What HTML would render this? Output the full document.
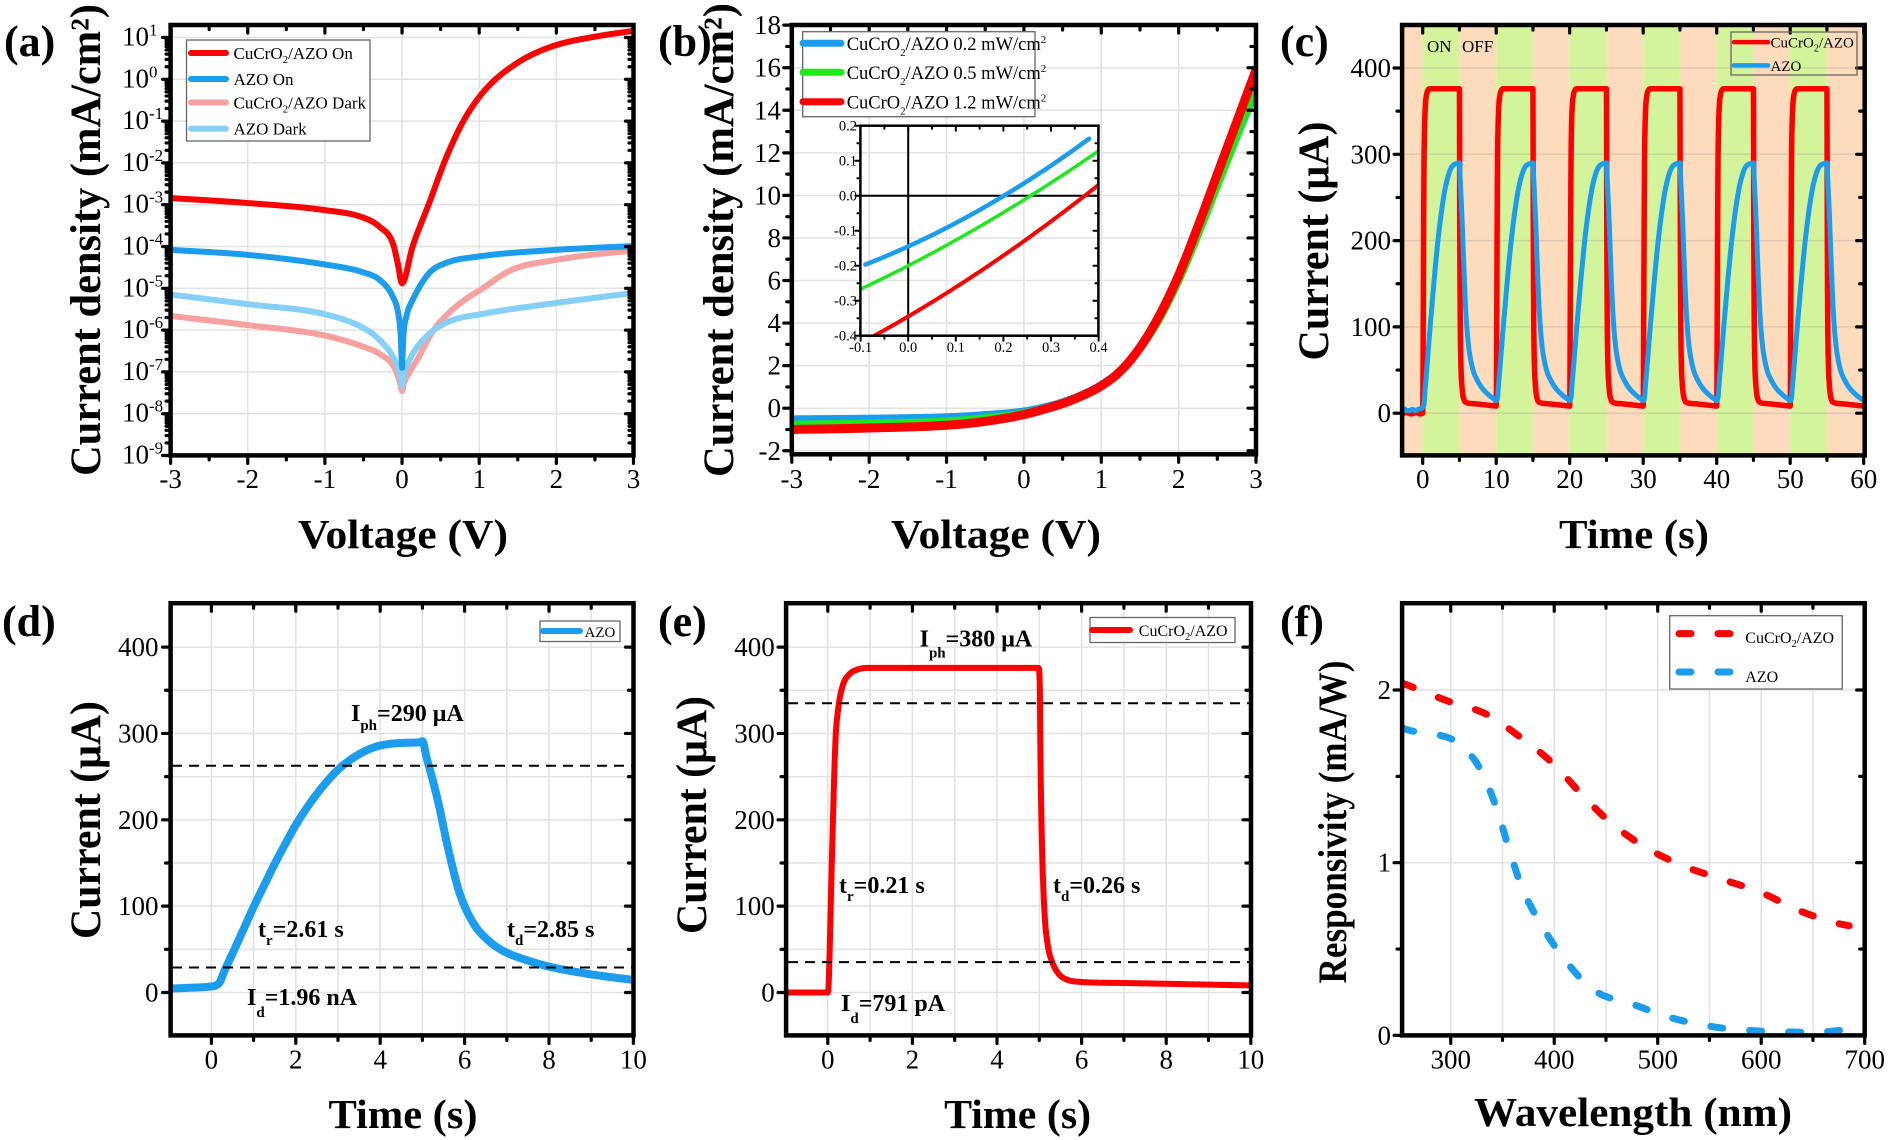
<!DOCTYPE html>
<html><head><meta charset="utf-8">
<style>
html,body{margin:0;padding:0;background:#fff;}
svg{display:block;font-family:"Liberation Serif","Times New Roman",serif;}
svg text, svg tspan{font-family:"Liberation Serif","Times New Roman",serif;}
.b{font-weight:bold;}
</style></head><body>
<svg id="s" width="1888" height="1140" viewBox="0 0 1888 1140" xmlns="http://www.w3.org/2000/svg" font-family="Liberation Serif, serif">
<defs>
<clipPath id="cA"><rect x="170.6" y="25" width="462.9" height="430.4"/></clipPath>
<clipPath id="cB"><rect x="791.8" y="25" width="464.2" height="429.3"/></clipPath>
<clipPath id="cI"><rect x="860.4" y="125.7" width="238" height="210"/></clipPath>
<clipPath id="cC"><rect x="1402.1" y="25" width="462.6" height="430.4"/></clipPath>
<clipPath id="cD"><rect x="170.6" y="603.2" width="462.9" height="432.2"/></clipPath>
<clipPath id="cE"><rect x="786.1" y="603.2" width="464.9" height="432.2"/></clipPath>
<clipPath id="cF"><rect x="1402.1" y="603.2" width="462.6" height="432.2"/></clipPath>
</defs>
<g id="bg"></g>
<g id="grid"></g>
<g id="curves"></g>
<g id="axes"></g>

<!-- ================= Panel A ================= -->
<g font-size="27">
<text x="122" y="45.5">10<tspan dy="-10" font-size="17">1</tspan></text>
<text x="122" y="87.3">10<tspan dy="-10" font-size="17">0</tspan></text>
<text x="122" y="129.1">10<tspan dy="-10" font-size="17">-1</tspan></text>
<text x="122" y="170.9">10<tspan dy="-10" font-size="17">-2</tspan></text>
<text x="122" y="212.7">10<tspan dy="-10" font-size="17">-3</tspan></text>
<text x="122" y="254.5">10<tspan dy="-10" font-size="17">-4</tspan></text>
<text x="122" y="296.3">10<tspan dy="-10" font-size="17">-5</tspan></text>
<text x="122" y="338.1">10<tspan dy="-10" font-size="17">-6</tspan></text>
<text x="122" y="379.9">10<tspan dy="-10" font-size="17">-7</tspan></text>
<text x="122" y="421.7">10<tspan dy="-10" font-size="17">-8</tspan></text>
<text x="122" y="463.5">10<tspan dy="-10" font-size="17">-9</tspan></text>
</g>
<g font-size="27" text-anchor="middle">
<text x="170.6" y="488">-3</text><text x="247.75" y="488">-2</text><text x="324.9" y="488">-1</text>
<text x="402.05" y="488">0</text><text x="479.2" y="488">1</text><text x="556.35" y="488">2</text><text x="633.5" y="488">3</text>
</g>
<text class="b" x="4" y="56" font-size="44">(a)</text>
<text class="b" x="403" y="548" font-size="41" text-anchor="middle" textLength="210" lengthAdjust="spacingAndGlyphs">Voltage (V)</text>
<text class="b" transform="translate(100,240) rotate(-90)" font-size="43" text-anchor="middle" textLength="472" lengthAdjust="spacingAndGlyphs">Current density (mA/cm²)</text>
<rect x="186.5" y="40" width="183.5" height="101" fill="#fff" stroke="#666" stroke-width="1.3"/>
<g stroke-width="6" stroke-linecap="round">
<line x1="191" y1="53" x2="226" y2="53" stroke="#ff0000"/>
<line x1="191" y1="79" x2="226" y2="79" stroke="#1b9cec"/>
<line x1="191" y1="102.5" x2="226" y2="102.5" stroke="#f6a0a0"/>
<line x1="191" y1="128.6" x2="226" y2="128.6" stroke="#86cff6"/>
</g>
<g font-size="17">
<text x="233.5" y="59">CuCrO<tspan font-size="11" dy="4">2</tspan><tspan dy="-4">/AZO On</tspan></text>
<text x="233.5" y="85">AZO On</text>
<text x="233.5" y="108.5">CuCrO<tspan font-size="11" dy="4">2</tspan><tspan dy="-4">/AZO Dark</tspan></text>
<text x="233.5" y="134.6">AZO Dark</text>
</g>

<!-- ================= Panel B ================= -->
<g font-size="27" text-anchor="end">
<text x="781" y="34.2">18</text><text x="781" y="76.7">16</text><text x="781" y="119.3">14</text>
<text x="781" y="161.8">12</text><text x="781" y="204.4">10</text><text x="781" y="247">8</text>
<text x="781" y="289.5">6</text><text x="781" y="332.1">4</text><text x="781" y="374.6">2</text>
<text x="781" y="417.2">0</text><text x="781" y="459.8">-2</text>
</g>
<g font-size="27" text-anchor="middle">
<text x="791.8" y="488">-3</text><text x="869.17" y="488">-2</text><text x="946.54" y="488">-1</text>
<text x="1023.91" y="488">0</text><text x="1101.28" y="488">1</text><text x="1178.65" y="488">2</text><text x="1256" y="488">3</text>
</g>
<g font-size="14.5" text-anchor="end">
<text x="857" y="130.7">0.2</text><text x="857" y="165.7">0.1</text><text x="857" y="200.7">0.0</text>
<text x="857" y="235.7">-0.1</text><text x="857" y="270.7">-0.2</text><text x="857" y="305.7">-0.3</text><text x="857" y="340.7">-0.4</text>
</g>
<g font-size="14.5" text-anchor="middle">
<text x="860.6" y="352">-0.1</text><text x="908.2" y="352">0.0</text><text x="955.8" y="352">0.1</text>
<text x="1003.4" y="352">0.2</text><text x="1051" y="352">0.3</text><text x="1098.6" y="352">0.4</text>
</g>
<text class="b" x="658" y="56" font-size="44">(b)</text>
<text class="b" x="996" y="548" font-size="41" text-anchor="middle" textLength="210" lengthAdjust="spacingAndGlyphs">Voltage (V)</text>
<text class="b" transform="translate(733,240) rotate(-90)" font-size="43" text-anchor="middle" textLength="474" lengthAdjust="spacingAndGlyphs">Current density (mA/cm²)</text>
<rect x="802.7" y="31.7" width="232.3" height="85" fill="#fff" stroke="#666" stroke-width="1.3"/>
<g stroke-width="7" stroke-linecap="round">
<line x1="803" y1="43.3" x2="841" y2="43.3" stroke="#1b9cec"/>
<line x1="803" y1="72.3" x2="841" y2="72.3" stroke="#1ee81e"/>
<line x1="803" y1="101.7" x2="841" y2="101.7" stroke="#ff0000"/>
</g>
<g font-size="18.5">
<text x="846.7" y="50">CuCrO<tspan font-size="11" dy="6">2</tspan><tspan dy="-6">/AZO 0.2 mW/cm</tspan><tspan font-size="11" dy="-7">2</tspan></text>
<text x="846.7" y="79">CuCrO<tspan font-size="11" dy="6">2</tspan><tspan dy="-6">/AZO 0.5 mW/cm</tspan><tspan font-size="11" dy="-7">2</tspan></text>
<text x="846.7" y="108.4">CuCrO<tspan font-size="11" dy="6">2</tspan><tspan dy="-6">/AZO 1.2 mW/cm</tspan><tspan font-size="11" dy="-7">2</tspan></text>
</g>

<!-- ================= Panel C ================= -->
<g font-size="27" text-anchor="end">
<text x="1391" y="422.2">0</text><text x="1391" y="335.9">100</text><text x="1391" y="249.6">200</text>
<text x="1391" y="163.3">300</text><text x="1391" y="77">400</text>
</g>
<g font-size="27" text-anchor="middle">
<text x="1422.7" y="488">0</text><text x="1496.2" y="488">10</text><text x="1569.7" y="488">20</text>
<text x="1643.2" y="488">30</text><text x="1716.7" y="488">40</text><text x="1790.2" y="488">50</text><text x="1863.7" y="488">60</text>
</g>
<text x="1427" y="52" font-size="17">ON</text>
<text x="1462" y="52" font-size="17">OFF</text>
<text class="b" x="1280" y="56" font-size="44">(c)</text>
<text class="b" x="1634" y="548" font-size="41" text-anchor="middle" textLength="150" lengthAdjust="spacingAndGlyphs">Time (s)</text>
<text class="b" transform="translate(1328,241) rotate(-90)" font-size="43" text-anchor="middle" textLength="239" lengthAdjust="spacingAndGlyphs">Current (μA)</text>
<rect x="1731" y="32" width="126" height="43" fill="none" stroke="#666" stroke-width="1.3"/>
<line x1="1734" y1="42.1" x2="1768" y2="42.1" stroke="#ff0000" stroke-width="4.5" stroke-linecap="round"/>
<line x1="1734" y1="65.4" x2="1768" y2="65.4" stroke="#1b9cec" stroke-width="4.5" stroke-linecap="round"/>
<g font-size="15">
<text x="1770.5" y="47.5">CuCrO<tspan font-size="10" dy="4">2</tspan><tspan dy="-4">/AZO</tspan></text>
<text x="1770.5" y="71">AZO</text>
</g>

<!-- ================= Panel D ================= -->
<g font-size="27" text-anchor="end">
<text x="158.5" y="1001.5">0</text><text x="158.5" y="915.2">100</text><text x="158.5" y="828.8">200</text>
<text x="158.5" y="742.5">300</text><text x="158.5" y="656.1">400</text>
</g>
<g font-size="27" text-anchor="middle">
<text x="211.4" y="1068.6">0</text><text x="295.8" y="1068.6">2</text><text x="380.2" y="1068.6">4</text>
<text x="464.6" y="1068.6">6</text><text x="549" y="1068.6">8</text><text x="633.4" y="1068.6">10</text>
</g>
<text class="b" x="2" y="636" font-size="44">(d)</text>
<text class="b" x="403" y="1128" font-size="41" text-anchor="middle" textLength="149" lengthAdjust="spacingAndGlyphs">Time (s)</text>
<text class="b" transform="translate(100,820) rotate(-90)" font-size="43" text-anchor="middle" textLength="238" lengthAdjust="spacingAndGlyphs">Current (μA)</text>
<g stroke="#000" stroke-width="2" stroke-dasharray="10 7">
<line x1="172" y1="765.7" x2="632" y2="765.7"/>
<line x1="172" y1="967.5" x2="632" y2="967.5"/>
</g>
<g class="b" font-size="24">
<text x="351" y="721">I<tspan font-size="15" dy="9">ph</tspan><tspan dy="-9">=290 μA</tspan></text>
<text x="258" y="937">t<tspan font-size="15" dy="8">r</tspan><tspan dy="-8">=2.61 s</tspan></text>
<text x="507" y="937">t<tspan font-size="15" dy="8">d</tspan><tspan dy="-8">=2.85 s</tspan></text>
<text x="247" y="1005">I<tspan font-size="15" dy="12">d</tspan><tspan dy="-12">=1.96 nA</tspan></text>
</g>
<rect x="540" y="621" width="80" height="20.5" fill="#fff" stroke="#666" stroke-width="1.3"/>
<line x1="543" y1="631" x2="580" y2="631" stroke="#1b9cec" stroke-width="6" stroke-linecap="round"/>
<text x="584.5" y="637" font-size="15">AZO</text>

<!-- ================= Panel E ================= -->
<g font-size="27" text-anchor="end">
<text x="774.7" y="1001.5">0</text><text x="774.7" y="915.2">100</text><text x="774.7" y="828.8">200</text>
<text x="774.7" y="742.5">300</text><text x="774.7" y="656.1">400</text>
</g>
<g font-size="27" text-anchor="middle">
<text x="827.8" y="1068.6">0</text><text x="912.4" y="1068.6">2</text><text x="997" y="1068.6">4</text>
<text x="1081.6" y="1068.6">6</text><text x="1166.2" y="1068.6">8</text><text x="1250.8" y="1068.6">10</text>
</g>
<text class="b" x="658" y="636" font-size="44">(e)</text>
<text class="b" x="1017.6" y="1128" font-size="41" text-anchor="middle" textLength="147" lengthAdjust="spacingAndGlyphs">Time (s)</text>
<text class="b" transform="translate(706,815) rotate(-90)" font-size="43" text-anchor="middle" textLength="238" lengthAdjust="spacingAndGlyphs">Current (μA)</text>
<g stroke="#000" stroke-width="2" stroke-dasharray="10 7">
<line x1="788" y1="703.2" x2="1249" y2="703.2"/>
<line x1="788" y1="962.1" x2="1249" y2="962.1"/>
</g>
<g class="b" font-size="24">
<text x="919.6" y="646.5">I<tspan font-size="15" dy="11">ph</tspan><tspan dy="-11">=380 μA</tspan></text>
<text x="839" y="893">t<tspan font-size="15" dy="8">r</tspan><tspan dy="-8">=0.21 s</tspan></text>
<text x="1053" y="893">t<tspan font-size="15" dy="8">d</tspan><tspan dy="-8">=0.26 s</tspan></text>
<text x="841" y="1011">I<tspan font-size="15" dy="12">d</tspan><tspan dy="-12">=791 pA</tspan></text>
</g>
<rect x="1090" y="617.5" width="145" height="25" fill="#fff" stroke="#666" stroke-width="1.3"/>
<line x1="1092" y1="630" x2="1130" y2="630" stroke="#ff0000" stroke-width="6" stroke-linecap="round"/>
<text x="1138.8" y="636" font-size="16">CuCrO<tspan font-size="10.5" dy="4">2</tspan><tspan dy="-4">/AZO</tspan></text>

<!-- ================= Panel F ================= -->
<g font-size="27" text-anchor="end">
<text x="1391" y="1044.4">0</text><text x="1391" y="871.7">1</text><text x="1391" y="699">2</text>
</g>
<g font-size="27" text-anchor="middle">
<text x="1450.74" y="1068.6">300</text><text x="1554.23" y="1068.6">400</text><text x="1657.72" y="1068.6">500</text>
<text x="1761.21" y="1068.6">600</text><text x="1864.7" y="1068.6">700</text>
</g>
<text class="b" x="1280" y="636" font-size="44">(f)</text>
<text class="b" x="1633" y="1126" font-size="41" text-anchor="middle" textLength="318" lengthAdjust="spacingAndGlyphs">Wavelength (nm)</text>
<text class="b" transform="translate(1346,822) rotate(-90)" font-size="40" text-anchor="middle" textLength="323" lengthAdjust="spacingAndGlyphs">Responsivity (mA/W)</text>
<rect x="1669.7" y="615.7" width="172.5" height="73.3" fill="#fff" stroke="#666" stroke-width="1.3"/>
<g stroke-width="7" stroke-linecap="round" stroke-dasharray="12 27" fill="none">
<line x1="1679" y1="633.6" x2="1736" y2="633.6" stroke="#ff0000"/>
<line x1="1679" y1="672" x2="1736" y2="672" stroke="#1b9cec"/>
</g>
<g font-size="16">
<text x="1745.3" y="643">CuCrO<tspan font-size="10.5" dy="4">2</tspan><tspan dy="-4">/AZO</tspan></text>
<text x="1745.3" y="681.8">AZO</text>
</g>
</svg>
<script>
(function(){
var NS='http://www.w3.org/2000/svg';
function el(p,t,a){var e=document.createElementNS(NS,t);for(var k in a)e.setAttribute(k,a[k]);p.appendChild(e);return e;}
var G={bg:document.getElementById('bg'),grid:document.getElementById('grid'),curves:document.getElementById('curves'),axes:document.getElementById('axes')};
function mono(P){
 var n=P.length,xs=P.map(function(p){return p[0];}),ys=P.map(function(p){return p[1];}),d=[],m=new Array(n),i;
 for(i=0;i<n-1;i++)d.push((ys[i+1]-ys[i])/(xs[i+1]-xs[i]));
 m[0]=d[0];m[n-1]=d[n-2];
 for(i=1;i<n-1;i++){m[i]=(d[i-1]*d[i]<=0)?0:(d[i-1]+d[i])/2;}
 for(i=0;i<n-1;i++){if(d[i]===0){m[i]=0;m[i+1]=0;continue;}var a=m[i]/d[i],b=m[i+1]/d[i],s=a*a+b*b;if(s>9){var t=3/Math.sqrt(s);m[i]=t*a*d[i];m[i+1]=t*b*d[i];}}
 return function(x){
  if(x<=xs[0])return ys[0];if(x>=xs[n-1])return ys[n-1];
  var j=0;while(x>xs[j+1])j++;
  var h=xs[j+1]-xs[j],t=(x-xs[j])/h,t2=t*t,t3=t2*t;
  return (2*t3-3*t2+1)*ys[j]+(t3-2*t2+t)*h*m[j]+(-2*t3+3*t2)*ys[j+1]+(t3-t2)*h*m[j+1];
 };
}
function sampleFn(f,x0,x1,n,knots){
 var xs=[],i;for(i=0;i<=n;i++)xs.push(x0+(x1-x0)*i/n);
 (knots||[]).forEach(function(k){if(k>=x0&&k<=x1)xs.push(k);});
 xs.sort(function(a,b){return a-b;});
 return xs.map(function(x){return [x,f(x)];});
}
function pathOf(pts,X,Y){return pts.map(function(p,i){return (i?'L':'M')+X(p[0]).toFixed(2)+','+Y(p[1]).toFixed(2);}).join('');}
function draw(pts,X,Y,attrs,clip){
 var a={d:pathOf(pts,X,Y),fill:'none','stroke-linejoin':'round','clip-path':'url(#'+clip+')'};
 for(var k in attrs)a[k]=attrs[k];
 el(G.curves,'path',a);
}
function curve(P,X,Y,attrs,clip,n){
 var f=mono(P);draw(sampleFn(f,P[0][0],P[P.length-1][0],n||800,P.map(function(p){return p[0];})),X,Y,attrs,clip);
}
function range(a,b,s){var r=[];for(var v=a;v<=b+1e-9;v+=s)r.push(Math.round(v*1e6)/1e6);return r;}
function frame(p){
 var gc=p.gc||'#e2e2e2';
 (p.gx||[]).forEach(function(v){var x=p.X(v);el(G.grid,'line',{x1:x,x2:x,y1:p.T,y2:p.B,stroke:gc,'stroke-width':1.5});});
 (p.gy||[]).forEach(function(v){var y=p.Y(v);el(G.grid,'line',{x1:p.L,x2:p.R,y1:y,y2:y,stroke:gc,'stroke-width':1.5});});
 var lw=p.tw||3.2,M=p.ml||8,m=p.mn||5;
 function tick(x1,y1,x2,y2){el(G.axes,'line',{x1:x1,y1:y1,x2:x2,y2:y2,stroke:'#000','stroke-width':lw,'stroke-linecap':'round'});}
 p.xMaj.forEach(function(v){var x=p.X(v);tick(x,p.B,x,p.B+M);tick(x,p.T,x,p.T+M);});
 p.xMin.forEach(function(v){var x=p.X(v);tick(x,p.B,x,p.B+m);tick(x,p.T,x,p.T+m);});
 p.yMaj.forEach(function(v){var y=p.Y(v);tick(p.L,y,p.L-M,y);tick(p.R,y,p.R-M,y);});
 p.yMin.forEach(function(v){var y=p.Y(v);tick(p.L,y,p.L-m,y);tick(p.R,y,p.R-m,y);});
 el(G.axes,'rect',{x:p.L,y:p.T,width:p.R-p.L,height:p.B-p.T,fill:'none',stroke:'#000','stroke-width':p.fw||4.5});
}
var RED='#ff0000',BLUE='#1b9cec',PINK='#f6a0a0',LBLUE='#86cff6',GREEN='#1ee81e';

/* ---------- A ---------- */
var XA=function(v){return 170.6+(v+3)*77.15;},YA=function(l){return 37.5+(1-l)*41.8;};
var logMin=[];for(var d=-9;d<=1;d++){for(var k=2;k<=9;k++){var lv=d+Math.log10(k);if(lv<1.29)logMin.push(lv);}}
frame({L:170.6,R:633.5,T:25,B:455.4,X:XA,Y:YA,xMaj:range(-3,3,1),xMin:range(-2.5,2.5,1),yMaj:range(-9,1,1),yMin:logMin,gx:[-2,-1,0,1,2],gy:range(-8,1,1),mn:4.5});
curve([[-3,-5.66],[-2,-5.88],[-1,-6.13],[-0.5,-6.4],[-0.3,-6.56],[-0.1,-6.9],[-0.02,-7.3],[0,-7.46],[0.02,-7.3],[0.1,-7.0],[0.2,-6.7],[0.3,-6.35],[0.41,-6.0],[0.6,-5.6],[0.81,-5.28],[1.02,-5.03],[1.42,-4.56],[2.0,-4.32],[2.45,-4.2],[3,-4.1]],XA,YA,{stroke:PINK,'stroke-width':6},'cA');
curve([[-3,-5.15],[-2,-5.38],[-1,-5.62],[-0.5,-5.95],[-0.3,-6.22],[-0.1,-6.7],[-0.02,-7.1],[0,-7.33],[0.02,-7.1],[0.1,-6.7],[0.33,-6.13],[0.6,-5.8],[1.02,-5.62],[1.92,-5.37],[3,-5.11]],XA,YA,{stroke:LBLUE,'stroke-width':6},'cA');
curve([[-3,-4.08],[-2,-4.2],[-1,-4.43],[-0.5,-4.62],[-0.29,-4.8],[-0.12,-5.2],[-0.05,-5.6],[-0.015,-6.2],[0,-6.9],[0.015,-6.2],[0.06,-5.65],[0.137,-5.28],[0.35,-4.64],[0.56,-4.40],[0.99,-4.24],[2.0,-4.08],[3,-3.99]],XA,YA,{stroke:BLUE,'stroke-width':6},'cA');
curve([[-3,-2.84],[-2,-2.96],[-1,-3.13],[-0.5,-3.31],[-0.29,-3.53],[-0.12,-3.92],[-0.056,-4.4],[0,-4.88],[0.137,-4.0],[0.35,-2.97],[0.56,-1.93],[0.78,-1.05],[0.99,-0.45],[1.2,-0.02],[1.42,0.30],[1.63,0.54],[2.0,0.82],[2.5,1.02],[3,1.16]],XA,YA,{stroke:RED,'stroke-width':6},'cA');

/* ---------- B ---------- */
var XB=function(v){return 791.8+(v+3)*77.37;},YB=function(j){return 408.2-j*21.28;};
frame({L:791.8,R:1256,T:25,B:454.3,X:XB,Y:YB,xMaj:range(-3,3,1),xMin:range(-2.5,2.5,1),yMaj:range(-2,18,2),yMin:range(-1,17,2),gx:[-2,-1,0,1,2],gy:range(-2,16,2)});
curve([[-3,-0.5],[-2,-0.47],[-1,-0.4],[-0.5,-0.3],[0,-0.13],[0.25,0.05],[0.5,0.3],[0.75,0.65],[1.0,1.12],[1.25,1.8],[1.5,2.85],[1.75,4.25],[2.0,6.05],[2.25,8.2],[2.5,10.5],[2.75,12.7],[3,14.9]],XB,YB,{stroke:BLUE,'stroke-width':7},'cB');
curve([[-3,-0.75],[-2,-0.7],[-1,-0.6],[-0.5,-0.45],[0,-0.22],[0.25,-0.01],[0.5,0.25],[0.75,0.6],[1.0,1.08],[1.25,1.75],[1.5,2.78],[1.75,4.15],[2.0,5.95],[2.25,8.1],[2.5,10.4],[2.75,12.7],[3,15.0]],XB,YB,{stroke:GREEN,'stroke-width':7},'cB');
curve([[-3,-1.0],[-2,-0.93],[-1,-0.8],[-0.5,-0.62],[0,-0.3],[0.25,-0.06],[0.5,0.22],[0.75,0.58],[1.0,1.05],[1.25,1.75],[1.5,2.85],[1.75,4.35],[2.0,6.25],[2.25,8.55],[2.5,11.0],[2.75,13.45],[3.0,15.9]],XB,YB,{stroke:RED,'stroke-width':9},'cB');
/* inset */
var XI=function(v){return 908.2+v*476;},YI=function(j){return 195.7-j*350;};
el(G.grid,'line',{x1:XI(0),x2:XI(0),y1:125.7,y2:335.7,stroke:'#000','stroke-width':2});
el(G.grid,'line',{x1:860.4,x2:1098.4,y1:YI(0),y2:YI(0),stroke:'#000','stroke-width':2});
frame({L:860.4,R:1098.4,T:125.7,B:335.7,X:XI,Y:YI,xMaj:range(-0.1,0.4,0.1),xMin:range(-0.05,0.35,0.1),yMaj:range(-0.4,0.2,0.1),yMin:range(-0.35,0.15,0.1),ml:5,mn:3,tw:2,fw:2.5});
draw(sampleFn(function(x){return -0.145+0.62*x+0.5*x*x;},-0.09,0.38,200),XI,YI,{stroke:BLUE,'stroke-width':4.5,'stroke-linecap':'round'},'cI');
draw(sampleFn(function(x){return -0.2+0.7*x+0.3*x*x;},-0.1,0.4,200),XI,YI,{stroke:GREEN,'stroke-width':3.5},'cI');
draw(sampleFn(function(x){return -0.345+0.8*x+0.35*x*x;},-0.1,0.4,200),XI,YI,{stroke:RED,'stroke-width':4},'cI');

/* ---------- shapes for C/D ---------- */
var RISE_B=[[0,7],[0.1,8],[0.2,12],[0.3,24],[0.5,45],[0.75,72],[1.0,99],[1.25,124],[1.5,149],[1.75,172],[2.0,194],[2.25,213],[2.5,230],[2.75,245],[3.0,258],[3.25,268],[3.5,276],[3.75,282],[4.0,286],[4.5,289],[5.0,290]];
var DEC_B=[[5.0,290],[5.1,272],[5.25,245],[5.4,215],[5.55,180],[5.7,148],[5.85,120],[6.0,100],[6.25,77],[6.5,63],[6.75,53],[7.0,46],[7.5,37],[8.0,30],[9,21],[10,14.5]];

/* ---------- C ---------- */
var XC=function(t){return 1422.7+t*7.35;},YC=function(i){return 413.2-i*0.863;};
for(var b=-1;b<12;b++){
 var t0=Math.max(-2.8,b*5),t1=Math.min(60,(b+1)*5);
 el(G.bg,'rect',{x:XC(t0),y:25,width:XC(t1)-XC(t0),height:430.4,fill:(b>=0&&b%2===0)?'#d4f49b':'#fddcbd'});
}
frame({L:1402.1,R:1864.7,T:25,B:455.4,X:XC,Y:YC,xMaj:range(0,60,10),xMin:range(5,55,10),yMaj:range(0,400,100),yMin:range(50,350,100),gy:[0,100,200,300,400],gc:'rgba(150,150,150,0.28)'});
var riseB=mono(RISE_B);
var decB=mono(DEC_B);
var preB=mono([[-2.8,2],[-2.5,5],[-2.2,3],[-1.8,3],[-1.4,4.5],[-1,3],[-0.5,5],[-0.1,6],[0,7]]);
var riseR=mono([[0,0],[0.02,10],[0.1,160],[0.18,290],[0.25,330],[0.35,355],[0.5,368],[0.7,374],[1,376],[5,376]]);
var decR=mono([[5,376],[5.01,360],[5.03,260],[5.07,160],[5.12,95],[5.2,55],[5.3,36],[5.45,22],[5.65,15],[5.94,12.4],[7,11],[10,8.2]]);
function blueC(t){if(t<0)return preB(t);var k=Math.min(5,Math.floor(t/10)),tau=t-10*k;var v0=k===0?7:14.5;if(tau<5)return v0+(riseB(tau)-7)*(290-v0)/283;return decB(tau);}
function redC(t){if(t<0)return 0.8*Math.sin(t*5);var k=Math.min(5,Math.floor(t/10)),tau=t-10*k;var v0=k===0?0:8.2;if(tau<5)return v0+riseR(tau)*(376-v0)/376;return decR(tau);}
var ptsR=[],ptsB=[];for(var t=-2.8;t<=60.0001;t+=0.02){ptsR.push([t,redC(t)]);ptsB.push([t,blueC(t)]);}
draw(ptsR,XC,YC,{stroke:RED,'stroke-width':5.5},'cC');
draw(ptsB,XC,YC,{stroke:BLUE,'stroke-width':5},'cC');

/* ---------- D ---------- */
var XD=function(t){return 211.4+t*42.2;},YD=function(i){return 992.5-i*0.8635;};
frame({L:170.6,R:633.5,T:603.2,B:1035.4,X:XD,Y:YD,xMaj:range(0,10,2),xMin:range(1,9,2),yMaj:range(0,400,100),yMin:range(50,350,100),gx:range(0,9,1),gy:range(0,400,50)});
var dPts=[[-1,4.5],[-0.5,5.5]].concat(RISE_B.slice(0,RISE_B.length-1)).concat([[4.95,290],[5.0,291]]).concat(DEC_B.slice(1));
curve(dPts,XD,YD,{stroke:BLUE,'stroke-width':8},'cD',1200);

/* ---------- E ---------- */
var XE=function(t){return 827.8+t*42.3;},YE=YD;
frame({L:786.1,R:1251,T:603.2,B:1035.4,X:XE,Y:YE,xMaj:range(0,10,2),xMin:range(1,9,2),yMaj:range(0,400,100),yMin:range(50,350,100),gx:range(0,9,1),gy:range(0,400,50)});
curve([[-1,0],[0,0],[0.02,10],[0.1,160],[0.18,290],[0.25,330],[0.35,355],[0.5,368],[0.7,374],[1,376],[4.98,376],[5.01,360],[5.03,260],[5.07,160],[5.12,95],[5.2,55],[5.3,36],[5.45,22],[5.65,15],[5.94,12.4],[7,11],[10,8.2]],XE,YE,{stroke:RED,'stroke-width':6},'cE',2000);

/* ---------- F ---------- */
var XF=function(l){return 1402.1+(l-253)*1.0349;},YF=function(r){return 1035.4-r*172.7;};
frame({L:1402.1,R:1864.7,T:603.2,B:1035.4,X:XF,Y:YF,xMaj:range(300,700,100),xMin:range(350,650,100),yMaj:[0,1,2],yMin:[0.5,1.5],gx:range(300,650,50),gy:[1,2]});
curve([[253,2.04],[260.5,2.023],[298,1.934],[335.5,1.857],[368,1.723],[400,1.568],[427,1.392],[453.6,1.237],[486,1.097],[523.6,0.984],[559,0.91],[600,0.827],[636,0.724],[675,0.647],[685,0.635]],XF,YF,{stroke:RED,'stroke-width':7,'stroke-dasharray':'12 27','stroke-linecap':'round'},'cF');
curve([[253,1.78],[259,1.768],[298,1.723],[305,1.70],[327,1.558],[344,1.32],[356,1.086],[369,0.854],[388,0.635],[410,0.44],[438,0.263],[476,0.18],[516,0.097],[558,0.046],[593,0.027],[641,0.019],[670,0.025],[695,0.05]],XF,YF,{stroke:BLUE,'stroke-width':7,'stroke-dasharray':'12 27','stroke-linecap':'round'},'cF');
})();
</script>
</body></html>
